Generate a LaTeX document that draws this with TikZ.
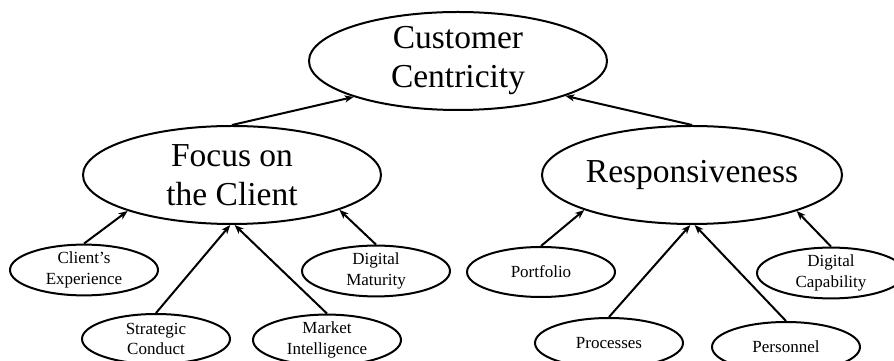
\documentclass[tikz,border=0pt]{standalone}
\usepackage{fontspec}
\setmainfont{Liberation Serif}
\usetikzlibrary{shapes.geometric,positioning,arrows.meta}

\begin{document}
\begin{tikzpicture}[->,>={Stealth[length=9pt,width=7pt,inset=2.5pt]},x=1pt,y=1pt,on grid,auto,
    line width=2pt,
    main node/.style={ellipse,draw,align=center,inner sep=0pt,minimum width=298pt,minimum height=98pt,font=\fontsize{33.5}{39}\selectfont},
    leaf node/.style={ellipse,draw,align=center,inner sep=0pt,minimum width=148pt,minimum height=50pt,font=\fontsize{17}{20.5}\selectfont}]

\useasboundingbox (0,0) rectangle (894,361);

\node[main node] (root) at (458,300) {Customer\\Centricity};
\node[main node] (focus) [below left=114pt and 226pt of root] {Focus on\\the Client};
\node[main node] (resp) [below right=114pt and 234pt of root] {Responsiveness};

\node[leaf node] (exper) [below left=95pt and 148pt of focus] {Client's\\Experience};
\node[leaf node] (strat) [below left=164pt and 76pt of focus] {Strategic\\Conduct};
\node[leaf node] (market) [below right=165pt and 95pt of focus] {Market\\Intelligence};
\node[leaf node] (maturity) [below right=96pt and 144pt of focus] {Digital\\Maturity};

\node[leaf node] (portfolio) [below left=97pt and 151pt of resp] {Portfolio};
\node[leaf node] (processes) [below left=168pt and 83pt of resp] {Processes};
\node[leaf node] (personnel) [below right=172pt and 94pt of resp] {Personnel};
\node[leaf node] (capability) [below right=98pt and 139pt of resp] {Digital\\Capability};

\path
(focus.north) edge (root.199)
(resp.north) edge (root.342)
(exper.north) edge (focus.199)
(strat.north) edge (focus.268)
(market.north) edge (focus.273)
(maturity.north) edge (focus.342)
(portfolio.north) edge (resp.198)
(processes.north) edge (resp.268)
(personnel.north) edge (resp.273)
(capability.north) edge (resp.341)
;

\end{tikzpicture}
\end{document}
